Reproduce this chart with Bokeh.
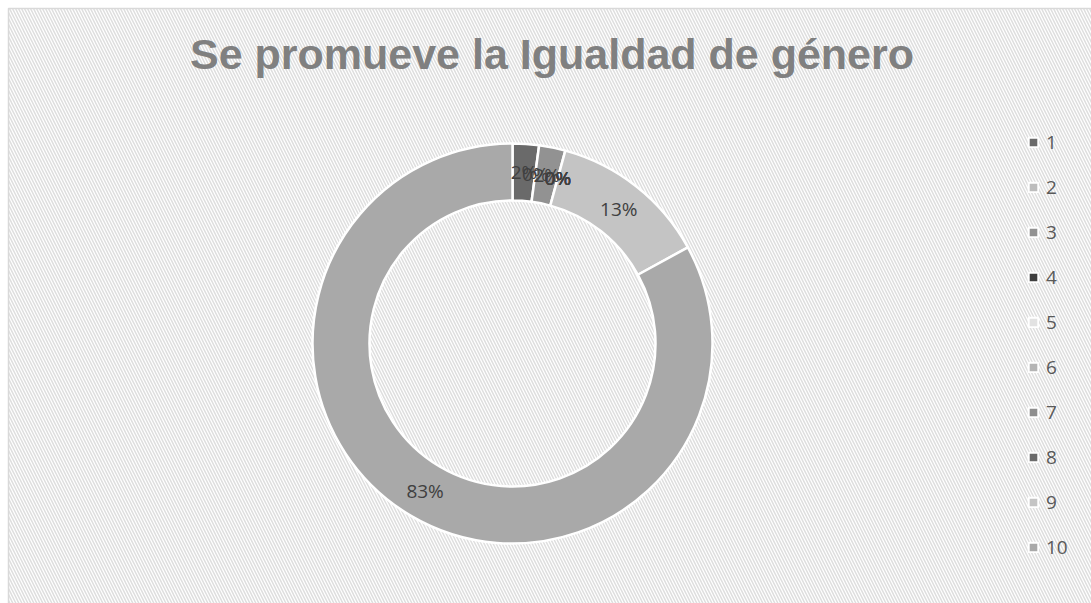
import numpy as np
from bokeh.plotting import figure
from bokeh.models import ColumnDataSource, Label, Legend, LegendItem, Range1d
from bokeh.core.properties import value
from bokeh.embed import file_html
from bokeh.resources import INLINE

title_text = "Se promueve la Igualdad de género"
categories = ["1", "2", "3", "4", "5", "6", "7", "8", "9", "10"]
counts = [1, 0, 1, 0, 0, 0, 0, 0, 6, 39]
colors = ["#6a6a6a", "#bdbdbd", "#929292", "#3f3f3f", "#e2e2e2",
          "#b5b5b5", "#8e8e8e", "#6c6c6c", "#c4c4c4", "#a9a9a9"]

W, H = 1091, 603
p = figure(width=W, height=H, output_backend="svg", toolbar_location=None,
           x_range=Range1d(0, W), y_range=Range1d(0, H), min_border=0,
           match_aspect=False)
p.axis.visible = False
p.grid.visible = False
p.outline_line_color = None
p.background_fill_color = "white"
p.border_fill_color = "white"

# hatched chart area with light border (top-left corner at 8,8)
p.quad(left=[8], right=[W + 5], bottom=[-5], top=[H - 8], fill_color="white",
       line_color="#d9d9d9", line_width=1.5, hatch_pattern="left_diagonal_line",
       hatch_color="#dedede", hatch_scale=6, hatch_weight=1.5)

cx, cy = 512, H - 343
r_out, r_in = 200, 143

total = float(sum(counts))
fr = np.array(counts) / total
cum_end = np.cumsum(fr)
cum_start = cum_end - fr
start_ang = np.pi / 2 - cum_start * 2 * np.pi
end_ang = np.pi / 2 - cum_end * 2 * np.pi
mid = (cum_start + cum_end) / 2
r_lab = (r_out + r_in) / 2
lx = cx + r_lab * np.sin(mid * 2 * np.pi)
ly = cy + r_lab * np.cos(mid * 2 * np.pi)
labels = [f"{round(f*100):.0f}%" for f in fr]

data = dict(cat=categories, start=start_ang, end=end_ang, color=colors,
            lx=lx, ly=ly, lab=labels, x=[cx] * 10, y=[cy] * 10,
            nan=[np.nan] * 10)
src = ColumnDataSource(data)
nz = [i for i, c in enumerate(counts) if c > 0]
src_nz = ColumnDataSource({k: [v[i] for i in nz] for k, v in data.items()})

p.annular_wedge(x="x", y="y", inner_radius=r_in, outer_radius=r_out,
                start_angle="start", end_angle="end", direction="clock",
                fill_color="color", line_color="white", line_width=2.5,
                source=src_nz)

p.text(x="lx", y="ly", text="lab", source=src, text_align="center",
       text_baseline="middle", text_font=value("Open Sans"),
       text_font_size="19px", text_color="#404040")

p.add_layout(Label(x=551.5, y=H - 53, text=title_text, text_align="center",
                   text_baseline="alphabetic",
                   text_font="Liberation Sans", text_font_style="bold",
                   text_font_size="43px", text_color="#808080"))

# legend-only renderer (one swatch per category)
leg_r = p.quad(left="nan", right="nan", bottom="nan", top="nan",
               fill_color="color", line_color="white", line_width=2,
               source=src)
items = [LegendItem(label=c, renderers=[leg_r], index=i)
         for i, c in enumerate(categories)]
legend = Legend(items=items, location=(1027, H - 119 - 450),
                orientation="vertical",
                glyph_width=12, glyph_height=12, label_height=45, spacing=0,
                padding=0, margin=0, label_standoff=7,
                label_text_font="Open Sans", label_text_font_size="19px",
                label_text_color="#595959", label_text_baseline="middle",
                background_fill_alpha=0, border_line_alpha=0)
p.add_layout(legend, "center")

open("out.html", "w").write(file_html(p, INLINE))
